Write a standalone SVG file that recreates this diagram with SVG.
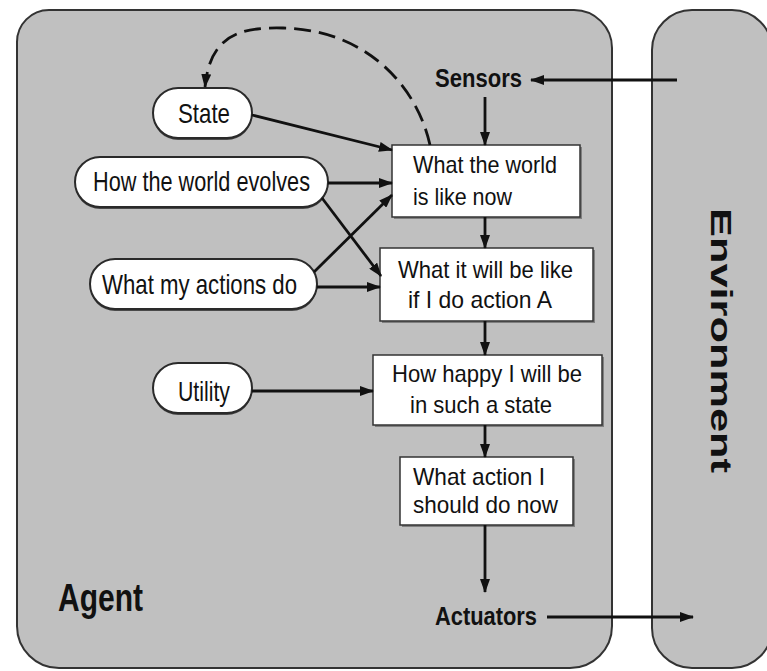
<svg xmlns="http://www.w3.org/2000/svg" width="767" height="671" viewBox="0 0 767 671">
  <style>
    .frame { fill: #c0c0c0; stroke: #333; stroke-width: 2; }
    .pill { fill: #fff; stroke: #2a2a2a; stroke-width: 2; }
    .pillshadow { fill: #4a4a4a; }
    .box { fill: #fff; stroke: #333; stroke-width: 1.5; }
    .boxshadow { fill: #808080; }
    .t { font-family: "Liberation Sans", Arial, sans-serif; fill: #111; }
    .node { font-size: 28px; }
    .btxt { font-size: 24px; }
    .lbl { font-size: 26px; font-weight: bold; }
    .big { font-weight: bold; }
    .wire { fill: none; stroke: #111; stroke-width: 2.8; }
  </style>
  <defs>
    <marker id="ah" markerUnits="userSpaceOnUse" markerWidth="14" markerHeight="10" refX="13" refY="5" orient="auto">
      <path d="M0,0 L14,5 L0,10 Z" fill="#111"/>
    </marker>
  </defs>

  <rect width="767" height="671" fill="#fff"/>

  <!-- outer frames -->
  <g id="agent">
    <path class="frame" d="M17,42 A32,32 0 0 1 49,10 L574,10 A38,38 0 0 1 612,48 L612,626 A42,42 0 0 1 570,668 L59,668 A42,42 0 0 1 17,626 Z"/>
    <text class="t big" x="58" y="611" font-size="39" textLength="85" lengthAdjust="spacingAndGlyphs">Agent</text>
  </g>
  <g id="environment">
    <path class="frame" d="M652,50 A40,40 0 0 1 692,10 L732,10 A40,40 0 0 1 772,50 L772,628 A40,40 0 0 1 732,668 L692,668 A40,40 0 0 1 652,628 Z"/>
    <text class="t big" font-size="29" transform="translate(711,208) rotate(90)" textLength="265" lengthAdjust="spacingAndGlyphs">Environment</text>
  </g>

  <!-- rounded knowledge nodes -->
  <g id="state">
    <rect class="pillshadow" x="153" y="90" width="99" height="50" rx="25"/>
    <rect class="pill" x="153" y="88" width="99" height="50" rx="25"/>
    <text class="t node" x="178" y="123" textLength="52" lengthAdjust="spacingAndGlyphs">State</text>
  </g>
  <g id="world-evolves">
    <rect class="pillshadow" x="75" y="159" width="253" height="50" rx="25"/>
    <rect class="pill" x="75" y="157" width="253" height="50" rx="25"/>
    <text class="t node" x="93" y="191" textLength="217" lengthAdjust="spacingAndGlyphs">How the world evolves</text>
  </g>
  <g id="actions-do">
    <rect class="pillshadow" x="90" y="261" width="227" height="50" rx="25"/>
    <rect class="pill" x="90" y="259" width="227" height="50" rx="25"/>
    <text class="t node" x="102" y="294" textLength="195" lengthAdjust="spacingAndGlyphs">What my actions do</text>
  </g>
  <g id="utility">
    <rect class="pillshadow" x="153" y="365" width="99" height="50" rx="25"/>
    <rect class="pill" x="153" y="363" width="99" height="50" rx="25"/>
    <text class="t node" x="178" y="401" textLength="52" lengthAdjust="spacingAndGlyphs">Utility</text>
  </g>

  <!-- processing boxes -->
  <g id="world-now">
    <rect class="boxshadow" x="394" y="147" width="188" height="72"/>
    <rect class="box" x="392" y="145" width="188" height="72"/>
    <text class="t btxt" x="413" y="173" textLength="144" lengthAdjust="spacingAndGlyphs">What the world</text>
    <text class="t btxt" x="413" y="205" textLength="99" lengthAdjust="spacingAndGlyphs">is  like now</text>
  </g>
  <g id="world-next">
    <rect class="boxshadow" x="382" y="250" width="213" height="73"/>
    <rect class="box" x="380" y="248" width="213" height="73"/>
    <text class="t btxt" x="398" y="278" textLength="175" lengthAdjust="spacingAndGlyphs">What it will be like</text>
    <text class="t btxt" x="408" y="308" textLength="144" lengthAdjust="spacingAndGlyphs">if I do action A</text>
  </g>
  <g id="happiness">
    <rect class="boxshadow" x="375" y="357" width="229" height="70"/>
    <rect class="box" x="373" y="355" width="229" height="70"/>
    <text class="t btxt" x="392" y="382" textLength="190" lengthAdjust="spacingAndGlyphs">How happy I will be</text>
    <text class="t btxt" x="410" y="413" textLength="142" lengthAdjust="spacingAndGlyphs">in  such  a state</text>
  </g>
  <g id="choose-action">
    <rect class="boxshadow" x="402" y="459" width="173" height="68"/>
    <rect class="box" x="400" y="457" width="173" height="68"/>
    <text class="t btxt" x="413" y="485" textLength="132" lengthAdjust="spacingAndGlyphs">What action I</text>
    <text class="t btxt" x="413" y="513" textLength="145" lengthAdjust="spacingAndGlyphs">should do now</text>
  </g>

  <!-- sensor / actuator labels -->
  <g id="sensors">
    <text class="t lbl" x="435" y="87" textLength="87" lengthAdjust="spacingAndGlyphs">Sensors</text>
  </g>
  <g id="actuators">
    <text class="t lbl" x="435" y="625" textLength="102" lengthAdjust="spacingAndGlyphs">Actuators</text>
  </g>

  <!-- connectors -->
  <g id="connectors">
    <path class="wire" d="M677,80 L531,80" marker-end="url(#ah)"/>
    <path class="wire" stroke-width="2.2" d="M485,97 L485,145" marker-end="url(#ah)"/>
    <path class="wire" stroke-width="2.2" d="M485,217 L485,248" marker-end="url(#ah)"/>
    <path class="wire" stroke-width="2.2" d="M485,321 L485,355" marker-end="url(#ah)"/>
    <path class="wire" stroke-width="2.2" d="M485,425 L485,457" marker-end="url(#ah)"/>
    <path class="wire" stroke-width="2.2" d="M485,525 L485,592" marker-end="url(#ah)"/>
    <path class="wire" stroke-width="3.2" d="M547,617 L693,617" marker-end="url(#ah)"/>
    <path class="wire" stroke-width="3.2" d="M252,115 L392,150" marker-end="url(#ah)"/>
    <path class="wire" d="M328,183 L392,183" marker-end="url(#ah)"/>
    <path class="wire" d="M322,198 L381,276" marker-end="url(#ah)"/>
    <path class="wire" d="M314,272 L392,195" marker-end="url(#ah)"/>
    <path class="wire" stroke-width="3.8" d="M317,287 L380,287" marker-end="url(#ah)"/>
    <path class="wire" d="M252,391 L373,391" marker-end="url(#ah)"/>
    <path class="wire" stroke-width="3.5" stroke-dasharray="17,8" d="M430,145 C418,90 370,30 283,28 C240,27 210,35 205,87" marker-end="url(#ah)"/>
  </g>
</svg>
